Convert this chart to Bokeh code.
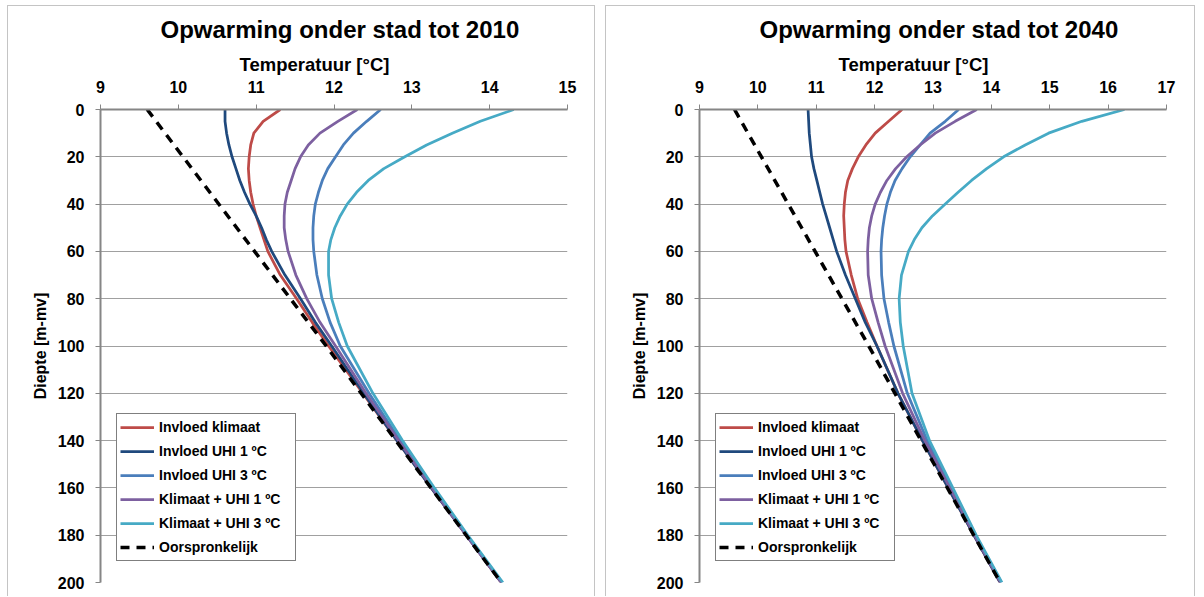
from bokeh.plotting import figure
from bokeh.layouts import row
from bokeh.models import Range1d, FixedTicker, Title, Legend, LegendItem
from bokeh.embed import file_html
from bokeh.resources import INLINE

# ---------------- data ----------------
depth = [0, 5, 10, 15, 20, 25, 30, 35, 40, 45, 50, 55, 60, 70, 80, 90, 100, 120, 140, 160, 180, 200]

orig_depth = [0, 50, 100, 150, 200]
orig_temp = [9.6, 10.75, 11.9, 13.02, 14.15]

# Opwarming tot 2010
klimaat_2010 = [11.31, 11.09, 10.97, 10.93, 10.91, 10.90, 10.91, 10.93, 10.96, 11.00, 11.05, 11.10, 11.15, 11.31, 11.52, 11.72, 11.93, 12.37, 12.81, 13.25, 13.70, 14.15]
uhi1_2010 = [10.60, 10.60, 10.62, 10.65, 10.69, 10.74, 10.79, 10.85, 10.92, 11.00, 11.07, 11.13, 11.20, 11.37, 11.57, 11.76, 11.97, 12.38, 12.81, 13.25, 13.70, 14.15]
uhi3_2010 = [12.60, 12.42, 12.25, 12.12, 12.02, 11.92, 11.85, 11.80, 11.76, 11.74, 11.73, 11.73, 11.74, 11.78, 11.85, 11.95, 12.08, 12.45, 12.85, 13.27, 13.71, 14.16]
klim_uhi1_2010 = [12.30, 12.05, 11.82, 11.67, 11.57, 11.50, 11.45, 11.40, 11.37, 11.36, 11.36, 11.38, 11.41, 11.51, 11.65, 11.82, 12.02, 12.41, 12.83, 13.26, 13.70, 14.15]
klim_uhi3_2010 = [14.31, 13.88, 13.52, 13.19, 12.91, 12.64, 12.44, 12.29, 12.17, 12.08, 12.01, 11.96, 11.93, 11.93, 11.97, 12.06, 12.17, 12.50, 12.88, 13.29, 13.72, 14.17]

# Opwarming tot 2040
klimaat_2040 = [12.47, 12.24, 12.01, 11.85, 11.72, 11.62, 11.54, 11.50, 11.48, 11.47, 11.48, 11.49, 11.51, 11.60, 11.71, 11.87, 12.04, 12.40, 12.82, 13.26, 13.70, 14.15]
uhi1_2040 = [10.86, 10.87, 10.88, 10.90, 10.92, 10.96, 11.01, 11.06, 11.11, 11.17, 11.23, 11.29, 11.35, 11.50, 11.67, 11.84, 12.04, 12.40, 12.82, 13.26, 13.70, 14.15]
uhi3_2040 = [13.44, 13.21, 12.95, 12.78, 12.61, 12.47, 12.35, 12.27, 12.21, 12.17, 12.14, 12.12, 12.11, 12.12, 12.16, 12.24, 12.33, 12.56, 12.90, 13.31, 13.72, 14.17]
klim_uhi1_2040 = [13.75, 13.38, 13.04, 12.78, 12.55, 12.36, 12.21, 12.10, 12.01, 11.95, 11.91, 11.89, 11.88, 11.89, 11.95, 12.06, 12.18, 12.48, 12.86, 13.29, 13.71, 14.16]
klim_uhi3_2040 = [16.28, 15.55, 14.98, 14.58, 14.21, 13.92, 13.66, 13.43, 13.21, 12.99, 12.81, 12.68, 12.58, 12.46, 12.42, 12.44, 12.49, 12.64, 12.94, 13.34, 13.74, 14.18]

series_names = ["Invloed klimaat", "Invloed UHI 1 ºC", "Invloed UHI 3 ºC",
                "Klimaat + UHI 1 ºC", "Klimaat + UHI 3 ºC"]
orig_name = "Oorspronkelijk"
series_colors = ["#BE4B48", "#1F497D", "#4A7EBB", "#7D60A0", "#46AAC5"]

x_ticks_2010 = [9, 10, 11, 12, 13, 14, 15]
x_ticks_2040 = [9, 10, 11, 12, 13, 14, 15, 16, 17]
y_ticks = [0, 20, 40, 60, 80, 100, 120, 140, 160, 180, 200]

title_2010 = "Opwarming onder stad tot 2010"
title_2040 = "Opwarming onder stad tot 2040"
x_label = "Temperatuur [°C]"
y_label = "Diepte [m-mv]"

FONT = "Liberation Sans"
AXIS_GRAY = "#868686"


def make_panel(title, series, xticks, width, mb_left, mb_right, margin):
    p = figure(width=width, height=591, output_backend="svg", toolbar_location=None,
               x_range=Range1d(xticks[0], xticks[-1]), y_range=Range1d(200, 0),
               x_axis_location="above", title=None,
               min_border_left=mb_left, min_border_right=mb_right,
               min_border_top=103, min_border_bottom=15)
    p.margin = margin
    p.styles = {"border": "1px solid #c4c4c4", "border-bottom": "none"}
    p.outline_line_color = None
    p.background_fill_color = "white"
    p.border_fill_color = "white"

    # axes
    p.xaxis.ticker = FixedTicker(ticks=xticks)
    p.yaxis.ticker = FixedTicker(ticks=y_ticks)
    for ax in (p.xaxis[0], p.yaxis[0]):
        ax.axis_line_color = AXIS_GRAY
        ax.axis_line_width = 2
        ax.major_tick_line_color = AXIS_GRAY
        ax.major_tick_line_width = 1
        ax.major_tick_out = 5
        ax.major_tick_in = 0
        ax.minor_tick_out = 0
        ax.minor_tick_in = 0
        ax.major_label_text_font = FONT
        ax.major_label_text_font_style = "bold"
        ax.major_label_text_font_size = "16px"
        ax.major_label_text_color = "black"
    p.xaxis.major_label_standoff = 12
    p.yaxis.major_label_standoff = 11
    p.yaxis.axis_label = y_label
    p.yaxis.axis_label_text_font = FONT
    p.yaxis.axis_label_text_font_style = "bold"
    p.yaxis.axis_label_text_font_size = "16px"
    p.yaxis.axis_label_text_color = "black"
    p.yaxis.axis_label_standoff = 6

    p.xgrid.visible = False
    p.ygrid.grid_line_color = "#a0a0a0"
    p.ygrid.grid_line_width = 1

    # titles (axis label as a left-aligned title for exact placement)
    t_axis = Title(text=x_label, align="left", offset=139, text_font=FONT,
                   text_font_style="bold", text_font_size="18.5px", text_color="black",
                   standoff=6)
    p.add_layout(t_axis, "above")
    t_main = Title(text=title, align="left", offset=60, text_font=FONT,
                   text_font_style="bold", text_font_size="24px", text_color="black",
                   standoff=12)
    p.add_layout(t_main, "above")

    items = []
    for name, color, vals in zip(series_names, series_colors, series):
        r = p.line(vals, depth, line_color=color, line_width=2.75)
        items.append(LegendItem(label=name, renderers=[r]))
    r0 = p.line(orig_temp, orig_depth, line_color="black", line_width=3.5, line_dash="9 7")
    items.append(LegendItem(label=orig_name, renderers=[r0]))

    legend = Legend(items=items, location=(16, 21), border_line_color="black",
                    border_line_width=1, background_fill_color="white", background_fill_alpha=1,
                    label_text_font=FONT, label_text_font_style="bold",
                    label_text_font_size="14px", label_text_color="black",
                    glyph_width=34, glyph_height=20, label_height=20, label_width=133,
                    spacing=4, padding=3, label_standoff=5, margin=0)
    p.add_layout(legend)
    return p


p1 = make_panel(title_2010,
                [klimaat_2010, uhi1_2010, uhi3_2010, klim_uhi1_2010, klim_uhi3_2010],
                x_ticks_2010, 588, 92, 29, (5, 4, 0, 7))
p2 = make_panel(title_2040,
                [klimaat_2040, uhi1_2040, uhi3_2040, klim_uhi1_2040, klim_uhi3_2040],
                x_ticks_2040, 590, 93, 30, (5, 5, 0, 6))

layout = row(p1, p2)
layout.styles = {"background-color": "white"}

open("out.html", "w").write(file_html(layout, INLINE))
